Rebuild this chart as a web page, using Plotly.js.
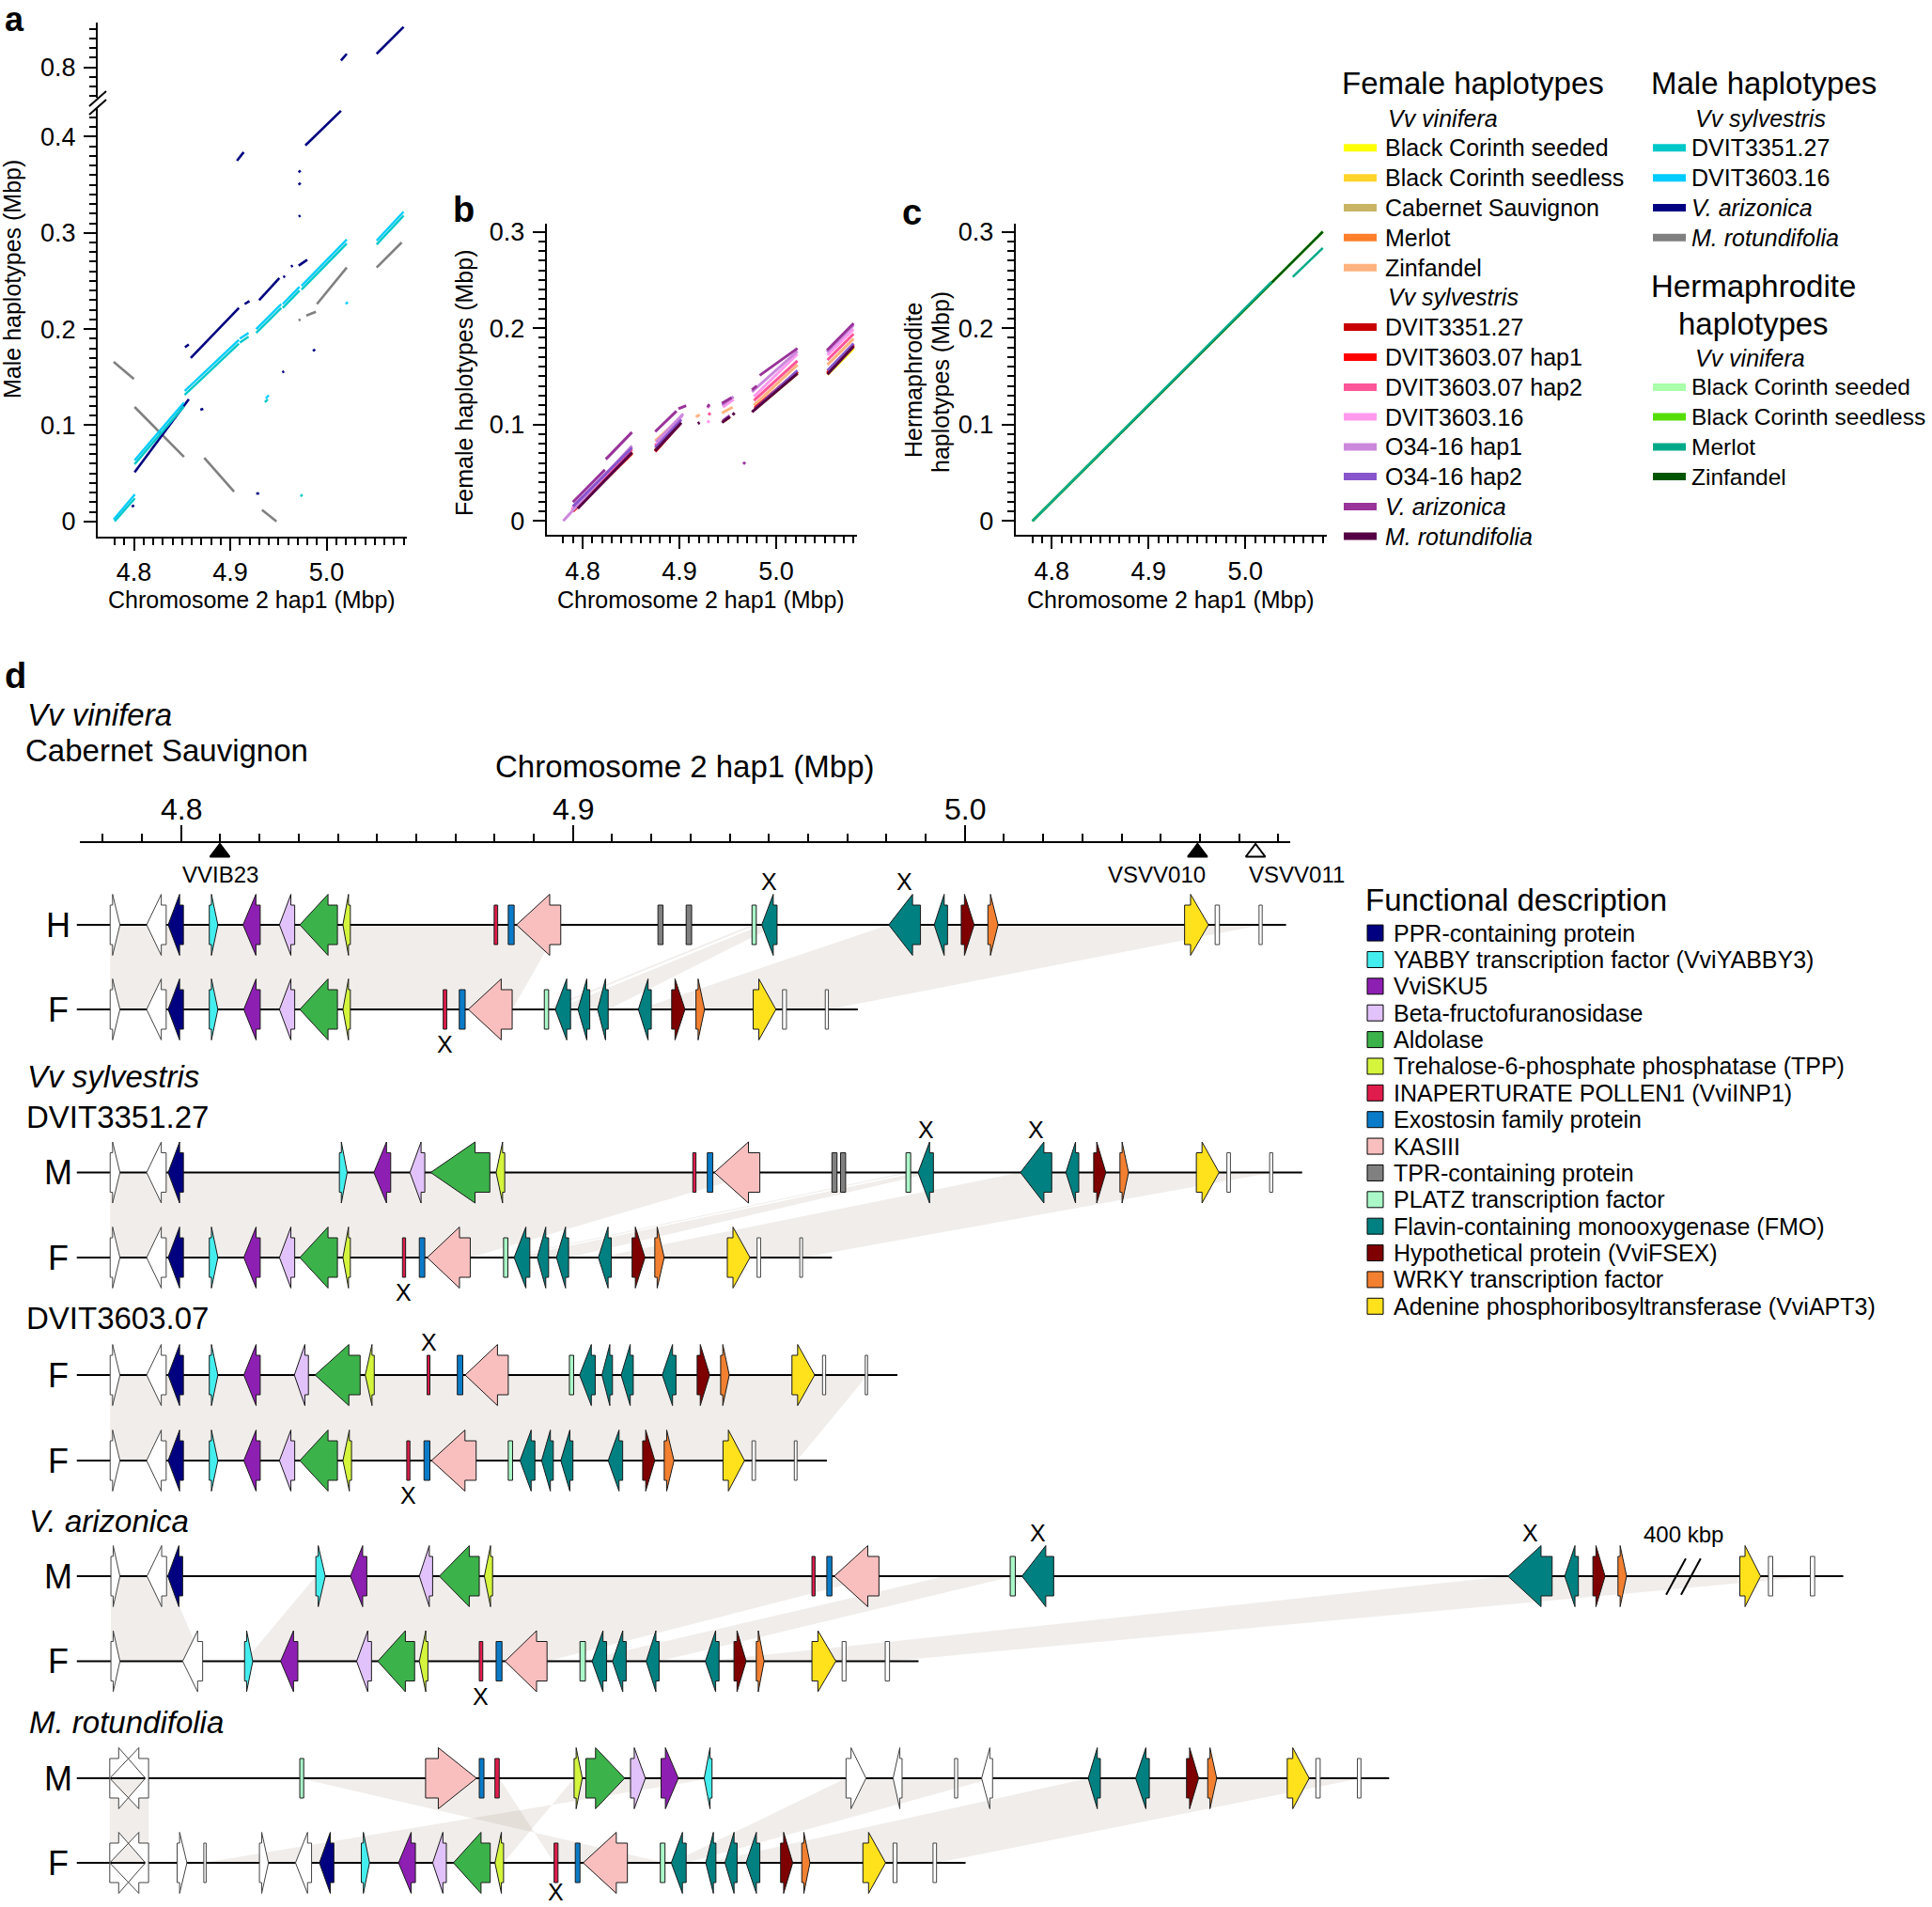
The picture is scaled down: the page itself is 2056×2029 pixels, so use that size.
<!DOCTYPE html>
<html><head><meta charset="utf-8">
<script src="https://cdn.plot.ly/plotly-3.0.1.min.js"></script>
<style>html,body{margin:0;padding:0;background:#fff}</style>
</head><body><div id="chart" style="width:2056px;height:2029px"></div>
<script>
const FONT = 'Liberation Sans, Arial, Helvetica, sans-serif';
const W = 2056, H = 2029;

// ================= Panel a: male haplotypes vs Chr2 hap1 (segments [x0,y0,x1,y1], Mbp) =================
const aDVIT3351_27 = [[4.780,0.000,4.801,0.024],[4.8007,0.0595,4.852,0.1196],[4.8527,0.1316,4.909,0.1848],[4.910,0.186,4.919,0.192],[4.927,0.196,4.953,0.222],[4.9545,0.222,4.972,0.240],[4.974,0.241,5.021,0.289],[5.052,0.288,5.080,0.318],[4.936,0.124,4.939,0.127],[4.973,0.026,4.975,0.028]];
const aDVIT3603_16 = [[4.779,0.002,4.801,0.028],[4.8007,0.0635,4.852,0.1236],[4.8527,0.1356,4.909,0.1888],[4.910,0.190,4.919,0.196],[4.927,0.200,4.953,0.226],[4.9545,0.226,4.972,0.244],[4.974,0.245,5.021,0.293],[5.052,0.292,5.080,0.322],[4.937,0.128,4.940,0.131],[5.020,0.226,5.022,0.228]];
const aVarizonica = [[4.798,0.015,4.800,0.017],[4.8007,0.051,4.857,0.127],[4.853,0.181,4.857,0.184],[4.859,0.170,4.909,0.222],[4.915,0.226,4.920,0.229],[4.930,0.230,4.951,0.253],[4.955,0.254,4.957,0.255],[4.963,0.265,4.965,0.266],[4.971,0.266,4.980,0.272],[4.907,0.375,4.914,0.384],[4.978,0.391,5.015,0.427],[4.971,0.350,4.973,0.352],[4.971,0.363,4.973,0.365],[4.971,0.317,4.973,0.318],[4.869,0.116,4.872,0.117],[4.986,0.177,4.988,0.179],[4.954,0.155,4.956,0.156],[4.927,0.029,4.930,0.029]];
const aVarizonicaUpper = [[5.015,0.807,5.021,0.814],[5.052,0.814,5.080,0.842]];
const aMrotundifolia = [[4.779,0.166,4.800,0.148],[4.8007,0.119,4.852,0.067],[4.873,0.066,4.904,0.031],[4.933,0.012,4.948,0.000],[4.979,0.214,4.989,0.218],[4.990,0.226,5.021,0.264],[5.052,0.264,5.078,0.290],[4.971,0.209,4.973,0.210]];

// ================= Panel b: female haplotypes =================
const bBCseeded = [[4.790,0.011,4.851,0.071],[4.875,0.073,4.899,0.100],[4.945,0.103,4.952,0.108],[4.978,0.116,5.022,0.153],[5.053,0.152,5.080,0.179]];
const bBCseedless = [[4.790,0.011,4.851,0.071],[4.875,0.073,4.899,0.100],[4.945,0.103,4.952,0.108],[4.978,0.116,5.022,0.153],[5.053,0.152,5.080,0.180]];
const bCabernet = [[4.790,0.011,4.851,0.072],[4.875,0.074,4.900,0.101],[4.945,0.103,4.952,0.108],[4.978,0.117,5.022,0.155],[5.053,0.154,5.080,0.182]];
const bMerlot = [[4.790,0.010,4.851,0.070],[4.875,0.073,4.899,0.099],[4.945,0.103,4.952,0.108],[4.978,0.116,5.022,0.154],[5.053,0.153,5.080,0.181]];
const bZinfandel = [[4.789,0.012,4.851,0.075],[4.875,0.083,4.898,0.104],[4.917,0.108,4.921,0.110],[4.944,0.112,4.955,0.118],[4.977,0.120,5.022,0.162],[5.053,0.162,5.080,0.189]];
const bDVIT3351 = [[4.790,0.010,4.851,0.070],[4.875,0.072,4.900,0.100],[4.945,0.103,4.952,0.108],[4.978,0.117,5.022,0.155],[5.053,0.153,5.080,0.182]];
const bDVIT3603hap1 = [[4.790,0.011,4.851,0.071],[4.875,0.073,4.900,0.101],[4.945,0.104,4.952,0.109],[4.978,0.117,5.022,0.155],[5.053,0.154,5.080,0.183]];
const bDVIT3603hap2 = [[4.789,0.012,4.851,0.074],[4.875,0.078,4.901,0.106],[4.930,0.110,4.932,0.112],[4.945,0.104,4.952,0.109],[4.977,0.125,5.022,0.166],[5.053,0.167,5.080,0.194]];
const bDVIT3603_16 = [[4.789,0.013,4.851,0.077],[4.876,0.080,4.903,0.109],[4.929,0.117,4.931,0.120],[4.929,0.102,4.931,0.104],[4.945,0.118,4.956,0.126],[4.977,0.129,5.022,0.173],[5.053,0.172,5.080,0.199]];
const bO34hap1 = [[4.780,0.000,4.851,0.078],[4.876,0.082,4.904,0.111],[4.944,0.120,4.956,0.129],[4.975,0.134,5.022,0.176],[5.0525,0.175,5.080,0.203]];
const bO34hap2 = [[4.790,0.015,4.851,0.076],[4.875,0.076,4.902,0.105],[4.945,0.104,4.952,0.109],[4.978,0.116,5.022,0.156],[5.053,0.156,5.080,0.184]];
const bVarizonica = [[4.790,0.0195,4.823,0.053],[4.824,0.064,4.851,0.092],[4.875,0.0926,4.897,0.114],[4.899,0.1163,4.907,0.1196],[4.929,0.118,4.931,0.121],[4.944,0.122,4.954,0.128],[4.966,0.059,4.968,0.061],[4.975,0.136,4.980,0.140],[4.983,0.151,5.022,0.179],[5.0525,0.177,5.080,0.205]];
const bMrotundifolia = [[4.795,0.013,4.851,0.071],[4.875,0.073,4.902,0.102],[4.919,0.101,4.921,0.102],[4.944,0.102,4.952,0.108],[4.955,0.110,4.957,0.112],[4.975,0.113,5.022,0.153],[5.053,0.152,5.080,0.181]];

// ================= Panel c: hermaphrodite haplotypes =================
const cBCseeded = [[4.780,0.000,5.080,0.300]];
const cBCseedless = [[4.780,0.000,5.080,0.300]];
const cZinfandel = [[4.780,0.000,5.080,0.300]];
const cMerlot = [[4.780,0.000,5.027,0.248],[5.049,0.253,5.080,0.283]];

// ================= Legend names =================
const femaleVinifera = ['Black Corinth seeded','Black Corinth seedless','Cabernet Sauvignon','Merlot','Zinfandel'];
const femaleSylvestris = ['DVIT3351.27','DVIT3603.07 hap1','DVIT3603.07 hap2','DVIT3603.16','O34-16 hap1','O34-16 hap2'];
const femaleWild = ['<i>V. arizonica</i>','<i>M. rotundifolia</i>'];
const maleNames = ['DVIT3351.27','DVIT3603.16','<i>V. arizonica</i>','<i>M. rotundifolia</i>'];
const hermNames = ['Black Corinth seeded','Black Corinth seedless','Merlot','Zinfandel'];

// ================= Panel d: genes [start kbp, end kbp, strand, type] =================
const geneTypes = ['PPR','YAB','SKU','BFR','ALD','TPP','INP','EXO','KAS','TPR','PLZ','FMO','FSX','WRK','APT'];
const geneLabels = ['PPR-containing protein','YABBY transcription factor (VviYABBY3)','VviSKU5','Beta-fructofuranosidase','Aldolase','Trehalose-6-phosphate phosphatase (TPP)','INAPERTURATE POLLEN1 (VviINP1)','Exostosin family protein','KASIII','TPR-containing protein','PLATZ transcription factor','Flavin-containing monooxygenase (FMO)','Hypothetical protein (VviFSEX)','WRKY transcription factor','Adenine phosphoribosyltransferase (VviAPT3)'];

const genesCabH = [[4781.9,4784.4,1,'U'],[4791.2,4796.2,-1,'U'],[4796.7,4800.6,-1,'PPR'],[4807.2,4809.4,1,'YAB'],[4815.8,4820.2,-1,'SKU'],[4825.1,4829.0,-1,'BFR'],[4830.3,4839.9,-1,'ALD'],[4841.3,4843.2,-1,'TPP'],[4879.9,4880.8,0,'INP'],[4883.5,4885.0,0,'EXO'],[4885.6,4896.9,-1,'KAS'],[4921.7,4923.0,0,'TPR'],[4928.9,4930.3,0,'TPR'],[4945.7,4946.8,0,'PLZ'],[4948.2,4952.1,-1,'FMO'],[4980.6,4988.7,-1,'FMO'],[4992.2,4995.6,-1,'FMO'],[4999.1,5002.4,1,'FSX'],[5005.9,5008.5,1,'WRK'],[5056.1,5062.2,1,'APT'],[5063.9,5065.0,0,'U'],[5075.1,5075.9,0,'U']];
const genesCabF = [[4781.9,4784.4,1,'U'],[4791.2,4796.2,-1,'U'],[4796.7,4800.6,-1,'PPR'],[4807.2,4809.4,1,'YAB'],[4816.0,4820.2,-1,'SKU'],[4825.1,4829.0,-1,'BFR'],[4830.3,4839.9,-1,'ALD'],[4841.3,4843.2,-1,'TPP'],[4866.9,4867.8,0,'INP'],[4871.0,4872.5,0,'EXO'],[4873.3,4884.5,-1,'KAS'],[4892.7,4893.8,0,'PLZ'],[4895.5,4899.4,-1,'FMO'],[4901.3,4904.3,-1,'FMO'],[4906.3,4909.0,-1,'FMO'],[4916.7,4920.0,-1,'FMO'],[4925.2,4928.6,1,'FSX'],[4931.4,4933.6,1,'WRK'],[4946.0,4951.8,1,'APT'],[4953.5,4954.5,0,'U'],[4964.4,4965.2,0,'U']];
const genes3351M = [[4781.9,4784.4,1,'U'],[4791.2,4796.2,-1,'U'],[4796.7,4800.6,-1,'PPR'],[4840.4,4842.4,1,'YAB'],[4849.2,4853.5,-1,'SKU'],[4858.4,4862.2,-1,'BFR'],[4863.7,4878.8,-1,'ALD'],[4880.4,4882.6,-1,'TPP'],[4930.6,4931.4,0,'INP'],[4934.3,4935.7,0,'EXO'],[4936.1,4947.7,-1,'KAS'],[4966.1,4967.4,0,'TPR'],[4968.3,4969.6,0,'TPR'],[4985.0,4986.2,0,'PLZ'],[4988.1,4992.0,-1,'FMO'],[5014.2,5022.2,-1,'FMO'],[5025.8,5029.1,-1,'FMO'],[5032.9,5036.0,1,'FSX'],[5039.6,5041.8,1,'WRK'],[5059.1,5064.9,1,'APT'],[5066.9,5067.8,0,'U'],[5077.8,5078.6,0,'U']];
const genes3351F = [[4781.9,4784.4,1,'U'],[4791.2,4796.2,-1,'U'],[4796.7,4800.6,-1,'PPR'],[4807.2,4809.4,1,'YAB'],[4816.0,4820.2,-1,'SKU'],[4825.1,4829.0,-1,'BFR'],[4830.3,4839.9,-1,'ALD'],[4841.3,4843.2,-1,'TPP'],[4856.5,4857.3,0,'INP'],[4860.8,4862.2,0,'EXO'],[4862.8,4873.8,-1,'KAS'],[4882.3,4883.4,0,'PLZ'],[4885.0,4889.0,-1,'FMO'],[4890.9,4893.8,-1,'FMO'],[4895.8,4898.9,-1,'FMO'],[4906.5,4909.8,-1,'FMO'],[4915.1,4918.4,1,'FSX'],[4920.9,4923.3,1,'WRK'],[4939.4,4945.2,1,'APT'],[4947.0,4947.9,0,'U'],[4957.9,4958.6,0,'U']];
const genes3603hap1 = [[4781.9,4784.4,1,'U'],[4791.2,4796.2,-1,'U'],[4796.7,4800.6,-1,'PPR'],[4807.2,4809.4,1,'YAB'],[4816.0,4820.2,-1,'SKU'],[4828.9,4832.5,-1,'BFR'],[4834.2,4845.7,-1,'ALD'],[4847.0,4849.3,-1,'TPP'],[4862.8,4863.5,0,'INP'],[4870.5,4871.9,0,'EXO'],[4872.5,4883.5,-1,'KAS'],[4899.1,4900.2,0,'PLZ'],[4901.7,4905.7,-1,'FMO'],[4907.4,4910.1,-1,'FMO'],[4912.3,4915.4,-1,'FMO'],[4922.8,4926.3,-1,'FMO'],[4931.7,4934.9,1,'FSX'],[4937.7,4939.9,1,'WRK'],[4955.9,4961.7,1,'APT'],[4963.7,4964.5,0,'U'],[4974.6,4975.2,0,'U']];
const genes3603hap2 = [[4781.9,4784.4,1,'U'],[4791.2,4796.2,-1,'U'],[4796.7,4800.6,-1,'PPR'],[4807.2,4809.4,1,'YAB'],[4816.0,4820.2,-1,'SKU'],[4825.1,4829.0,-1,'BFR'],[4830.3,4839.9,-1,'ALD'],[4841.3,4843.5,-1,'TPP'],[4857.6,4858.4,0,'INP'],[4862.0,4863.5,0,'EXO'],[4863.9,4875.3,-1,'KAS'],[4883.5,4884.6,0,'PLZ'],[4886.5,4890.3,-1,'FMO'],[4892.0,4895.0,-1,'FMO'],[4896.9,4900.0,-1,'FMO'],[4909.0,4912.7,-1,'FMO'],[4917.8,4920.9,1,'FSX'],[4923.3,4925.8,1,'WRK'],[4938.3,4943.8,1,'APT'],[4945.7,4946.6,0,'U'],[4956.5,4957.2,0,'U']];
const genesArizM = [[4782.1,4784.4,1,'U'],[4791.3,4796.3,-1,'U'],[4796.6,4800.4,-1,'PPR'],[4834.4,4836.8,1,'YAB'],[4843.2,4847.4,-1,'SKU'],[4860.8,4864.2,-1,'BFR'],[4865.9,4876.1,-1,'ALD'],[4877.4,4879.5,-1,'TPP'],[4961.0,4961.8,0,'INP'],[4964.8,4966.1,0,'EXO'],[4966.7,4978.1,-1,'KAS'],[5011.6,5012.9,0,'PLZ'],[5014.6,5022.7,-1,'FMO'],[5138.6,5149.9,-1,'FMO'],[5153.1,5156.6,-1,'FMO'],[5160.3,5163.4,1,'FSX'],[5166.7,5168.9,1,'WRK'],[5197.8,5203.1,1,'APT'],[5205.1,5206.2,0,'U'],[5215.8,5216.9,0,'U']];
const genesArizF = [[4782.1,4784.4,1,'U'],[4800.4,4805.5,-1,'U'],[4816.2,4818.3,1,'YAB'],[4825.4,4829.8,-1,'SKU'],[4844.8,4848.6,-1,'BFR'],[4850.2,4859.6,-1,'ALD'],[4860.8,4863.0,-1,'TPP'],[4876.1,4877.0,0,'INP'],[4880.4,4881.9,0,'EXO'],[4882.7,4893.4,-1,'KAS'],[4901.8,4903.2,0,'PLZ'],[4904.9,4908.6,-1,'FMO'],[4910.1,4913.6,-1,'FMO'],[4918.7,4922.0,-1,'FMO'],[4933.8,4937.3,-1,'FMO'],[4941.1,4944.2,1,'FSX'],[4946.8,4948.8,1,'WRK'],[4961.0,4967.1,1,'APT'],[4968.7,4969.7,0,'U'],[4979.7,4980.8,0,'U']];
const genesRotM = [[4781.8,4790.9,1,'U'],[4781.8,4791.7,-1,'U'],[4830.3,4831.3,0,'PLZ'],[4862.4,4875.4,1,'KAS'],[4876.1,4877.3,0,'EXO'],[4880.1,4881.2,0,'INP'],[4900.3,4902.4,1,'TPP'],[4903.3,4913.2,1,'ALD'],[4914.7,4918.5,1,'BFR'],[4922.5,4926.9,1,'SKU'],[4933.5,4935.5,-1,'YAB'],[4969.7,4974.8,1,'U'],[4981.7,4984.0,-1,'U'],[4997.4,4998.2,0,'U'],[5004.3,5007.1,-1,'U'],[5031.5,5034.6,-1,'FMO'],[5043.6,5047.1,-1,'FMO'],[5056.6,5059.7,1,'FSX'],[5062.0,5064.3,1,'WRK'],[5082.3,5087.9,1,'APT'],[5089.6,5090.7,0,'U'],[5100.2,5101.1,0,'U']];
const genesRotF = [[4781.8,4790.9,1,'U'],[4781.8,4791.7,-1,'U'],[4799.0,4801.5,1,'U'],[4805.8,4806.4,0,'U'],[4820.0,4822.3,1,'U'],[4829.2,4833.3,-1,'U'],[4835.3,4839.0,-1,'PPR'],[4846.0,4848.1,1,'YAB'],[4855.5,4859.8,-1,'SKU'],[4864.2,4867.7,-1,'BFR'],[4869.5,4878.9,-1,'ALD'],[4880.1,4882.3,-1,'TPP'],[4895.2,4896.2,0,'INP'],[4900.6,4901.8,0,'EXO'],[4902.6,4913.9,-1,'KAS'],[4922.3,4923.5,0,'PLZ'],[4925.1,4928.9,-1,'FMO'],[4933.9,4936.5,-1,'FMO'],[4938.8,4941.9,-1,'FMO'],[4944.2,4947.7,-1,'FMO'],[4953.0,4956.1,1,'FSX'],[4958.4,4960.5,1,'WRK'],[4974.0,4979.8,1,'APT'],[4981.7,4982.7,0,'U'],[4991.9,4992.8,0,'U']];

const trackNames = ['H','F','M','F','F','F','M','F','M','F'];
const trackStart = 4773.4;
const trackEnd = [5082.0,4972.7,5086.1,4966.1,4982.8,4964.8,5224.2,4988.2,5108.3,5000.2];

// synteny links [top start, top end, bottom start, bottom end] (kbp)
const linksCab = [[4781.9,4896.9,4781.9,4884.5],[4945.7,4946.8,4892.7,4893.8],[4948.2,4952.1,4895.5,4909.0],[4980.6,5075.9,4916.7,4965.2]];
const links3351 = [[4781.9,4947.7,4781.9,4873.8],[4985.0,4986.2,4882.3,4883.4],[4988.1,4992.0,4885.0,4898.9],[5014.2,5078.6,4906.5,4958.6]];
const links3603 = [[4781.9,4975.2,4781.9,4957.2]];
const linksAriz = [[4782.1,4796.3,4782.1,4805.5],[4834.4,4978.1,4816.2,4893.4],[4995.0,5012.5,4901.8,4922.0],[5138.6,5216.9,4933.8,4980.8]];
const linksRot = [[4781.8,4791.7,4781.8,4791.7],[4830.3,4881.2,4923.5,4895.2],[4900.3,4935.5,4882.3,4805.8],[4969.7,5007.1,4925.1,4928.9],[5031.5,5101.1,4933.9,4992.8]];

// genes marked with X: [track, gene index, side]
const xMarks = [[0,14,'above'],[0,15,'above'],[1,8,'below'],[2,14,'above'],[2,15,'above'],[3,8,'below'],[4,8,'above'],[5,8,'below'],[6,12,'above'],[6,13,'above'],[7,7,'below'],[9,12,'below']];

// ruler markers (Mbp) and ruler tick labels
const markerNames = ['VVIB23','VSVV010','VSVV011'];
const markerPos = [4.8099,5.0594,5.0742];
const rulerTicks = [4.8,4.9,5.0];
const rulerTickText = ['4.8','4.9','5.0'];

// ================= styles / layout constants =================
const trackY = [984,1074,1247.5,1338,1463,1554,1677,1767.5,1892,1982];
const femaleColors = ['#FFFF00','#FFD42A','#C8B464','#FF7F2A','#FFB380','#C80000','#FF0000','#FF5599','#FF99EE','#CC88DD','#8855CC','#993399','#550044'];
const maleColors = ['#00C8C8','#00CCFF','#000080','#808080'];
const hermColors = ['#AAFFAA','#55DD00','#00AA88','#005500'];
const typeColors = {U:'#FFFFFF',PPR:'#000080',YAB:'#44EEEE',SKU:'#8E1FB3',BFR:'#E2C2FA',ALD:'#3CB24A',TPP:'#D4F53C',INP:'#E01C4C',EXO:'#0A7BC8',KAS:'#F9BFBF',TPR:'#808080',PLZ:'#AAF8C8',FMO:'#008080',FSX:'#7E0000',WRK:'#F28030',APT:'#FFE11C'};

const traces = [];
const annotations = [];
const shapes = [];

function segXY(segs){const x=[],y=[];segs.forEach(s=>{x.push(s[0],s[2],null);y.push(s[1],s[3],null);});return {x,y};}
function segTrace(segs,color,xa,ya,w){const d=segXY(segs);traces.push({type:'scatter',mode:'lines',x:d.x,y:d.y,xaxis:xa,yaxis:ya,line:{color:color,width:w||3},hoverinfo:'skip',showlegend:false});}
function T(text,fx,fy,size,anchor,extra){annotations.push(Object.assign({text:text,xref:'paper',yref:'paper',x:fx/W,y:1-fy/H,showarrow:false,xanchor:anchor||'left',yanchor:'middle',font:{family:FONT,size:size,color:'#000'}},extra||{}));}
function paperLine(x0,y0,x1,y1,color,w){shapes.push({type:'line',xref:'paper',yref:'paper',x0:x0/W,y0:1-y0/H,x1:x1/W,y1:1-y1/H,line:{color:color,width:w}});}

// ---- panel a traces
segTrace(aMrotundifolia, maleColors[3],'x','y',2.6);
segTrace(aVarizonica, maleColors[2],'x','y',2.6);
segTrace(aVarizonicaUpper, maleColors[2],'x','y2',2.6);
segTrace(aDVIT3351_27, maleColors[0],'x','y',2.4);
segTrace(aDVIT3603_16, maleColors[1],'x','y',2.4);
// ---- panel b traces
[bBCseeded,bBCseedless,bCabernet,bMerlot,bZinfandel,bDVIT3351,bDVIT3603hap1,bDVIT3603hap2,bDVIT3603_16,bO34hap1,bO34hap2,bVarizonica,bMrotundifolia].forEach((s,i)=>segTrace(s,femaleColors[i],'x3','y3',3));
// ---- panel c traces
segTrace(cBCseeded,hermColors[0],'x4','y4',2.5);
segTrace(cBCseedless,hermColors[1],'x4','y4',2.5);
segTrace(cZinfandel,hermColors[3],'x4','y4',2.5);
segTrace(cMerlot,hermColors[2],'x4','y4',2.5);

// ---- panel d: links
const linkSets = [[0,1,linksCab],[2,3,links3351],[4,5,links3603],[6,7,linksAriz],[8,9,linksRot]];
linkSets.forEach(ls=>{
  const yt=trackY[ls[0]], yb=trackY[ls[1]];
  ls[2].forEach(l=>{
    traces.push({type:'scatter',mode:'none',fill:'toself',fillcolor:'rgba(180,165,150,0.2)',x:[l[0],l[1],l[3],l[2],l[0]],y:[yt,yt,yb,yb,yt],xaxis:'x5',yaxis:'y5',hoverinfo:'skip',showlegend:false});
  });
});
// track lines
(function(){const x=[],y=[];trackY.forEach((yc,i)=>{x.push(trackStart,trackEnd[i],null);y.push(yc,yc,null);});
traces.push({type:'scatter',mode:'lines',x:x,y:y,xaxis:'x5',yaxis:'y5',line:{color:'#000',width:2},hoverinfo:'skip',showlegend:false});})();

// genes
const allTracks = [genesCabH,genesCabF,genes3351M,genes3351F,genes3603hap1,genes3603hap2,genesArizM,genesArizF,genesRotM,genesRotF];
const HB=21, HH=32.5, HEAD=0.75;
function genePoly(g,yc){
  const s=g[0],e=g[1],st=g[2],L=e-s;
  if(st===0) return [[s,yc-HB],[e,yc-HB],[e,yc+HB],[s,yc+HB],[s,yc-HB]];
  if(st===1){const b=e-HEAD*L;return [[s,yc-HB],[b,yc-HB],[b,yc-HH],[e,yc],[b,yc+HH],[b,yc+HB],[s,yc+HB],[s,yc-HB]];}
  const b=s+HEAD*L;return [[e,yc-HB],[b,yc-HB],[b,yc-HH],[s,yc],[b,yc+HH],[b,yc+HB],[e,yc+HB],[e,yc-HB]];
}
['U'].concat(geneTypes).forEach(t=>{
  const x=[],y=[];
  allTracks.forEach((tr,i)=>tr.forEach(g=>{if(g[3]===t){genePoly(g,trackY[i]).forEach(p=>{x.push(p[0]);y.push(p[1]);});x.push(null);y.push(null);}}));
  traces.push({type:'scatter',mode:'lines',fill:'toself',fillcolor:typeColors[t],x:x,y:y,xaxis:'x5',yaxis:'y5',line:{color:t==='U'?'#444':'#1a1a1a',width:1},hoverinfo:'skip',showlegend:false});
});
// X marks
xMarks.forEach(m=>{
  const g=allTracks[m[0]][m[1]];const c=(g[0]+g[1])/2;
  const off = m[2]==='above' ? (g[2]===0?-35:-46) : 37;
  const yy = Math.min(trackY[m[0]]+off, 2013);
  annotations.push({text:'X',xref:'x5',yref:'y5',x:c,y:yy,showarrow:false,xanchor:'center',yanchor:'middle',font:{family:FONT,size:25,color:'#000'}});
});
// ruler markers
traces.push({type:'scatter',mode:'markers',x:markerPos,y:[0.5,0.5,0.5],xaxis:'x6',yaxis:'y6',marker:{symbol:['triangle-up','triangle-up','triangle-up-open'],size:18,color:'#000',line:{color:'#000',width:2}},hoverinfo:'skip',showlegend:false,cliponaxis:false});
T(markerNames[0],234,930,24,'center');
T(markerNames[1],1285,930,24,'right');
T(markerNames[2],1327,930,24,'left');
// ruler tick labels
rulerTicks.forEach((v,i)=>annotations.push({text:rulerTickText[i],xref:'x6',yref:'paper',x:v,y:1-861/H,showarrow:false,xanchor:'center',yanchor:'middle',font:{family:FONT,size:32,color:'#000'}}));

// axis break on V. arizonica M track
shapes.push({type:'line',xref:'x5',yref:'y5',x0:5179.0,y0:1696.7,x1:5184.0,y1:1658.3,line:{color:'#000',width:2}});
shapes.push({type:'line',xref:'x5',yref:'y5',x0:5182.8,y0:1696.7,x1:5187.8,y1:1658.3,line:{color:'#000',width:2}});
T('400 kbp',1791,1632,24,'center');

// ---- panel a axis-break marks
paperLine(95,113,113,97,'#000',2);
paperLine(95,122,113,106,'#000',2);

// ---- text: panel letters and axis titles
T('<b>a</b>',15,20,36,'center');
T('<b>b</b>',493,223,38,'center');
T('<b>c</b>',970,226,38,'center');
T('<b>d</b>',16,719,38,'center');
T('Male haplotypes (Mbp)',13,297,25,'center',{textangle:-90});
T('Female haplotypes (Mbp)',494,408,25,'center',{textangle:-90});
T('Hermaphrodite',972,405,25,'center',{textangle:-90});
T('haplotypes (Mbp)',1001,407,25,'center',{textangle:-90});
T('Chromosome 2 hap1 (Mbp)',268,638.5,25,'center');
T('Chromosome 2 hap1 (Mbp)',746,638.5,25,'center');
T('Chromosome 2 hap1 (Mbp)',1246,638.5,25,'center');

// ---- haplotype legend
function swatch(x0,x1,fy,c){paperLine(x0,fy,x1,fy,c,8);}
T('Female haplotypes',1426,88.5,33);
T('<i>Vv vinifera</i>',1475,125.6,25);
const fRows=[157.2,189.2,221.1,252.7,284.7,347.9,379.9,411.9,443.5,475.4,507.0,539.0,570.6];
const fNames=femaleVinifera.concat(femaleSylvestris,femaleWild);
fNames.forEach((n,i)=>{swatch(1430,1465,fRows[i],femaleColors[i]);T(n,1472,fRows[i],25);});
T('<i>Vv sylvestris</i>',1475,316.3,25);
T('Male haplotypes',1755,88.5,33);
T('<i>Vv sylvestris</i>',1802,125.6,25);
const mRows=[157.2,189.2,221.1,252.7];
maleNames.forEach((n,i)=>{swatch(1759,1794,mRows[i],maleColors[i]);T(n,1798,mRows[i],25);});
T('Hermaphrodite',1866,304.3,33,'center');
T('haplotypes',1866,344.8,33,'center');
T('<i>Vv vinifera</i>',1802,380.6,25);
const hRows=[411.9,443.5,475.4,507.0];
hermNames.forEach((n,i)=>{swatch(1759,1794,hRows[i],hermColors[i]);T(n,1798,hRows[i],24.5);});

// ---- functional legend
T('Functional description',1451,957,33);
geneTypes.forEach((t,i)=>{const fy=992.6+i*28.37;
  shapes.push({type:'rect',xref:'paper',yref:'paper',x0:1455/W,x1:1472/W,y0:1-(fy+8.5)/H,y1:1-(fy-8.5)/H,fillcolor:typeColors[t],line:{color:'#000',width:1}});
  T(geneLabels[i],1481,fy,25);});

// ---- panel d labels
T('<i>Vv vinifera</i>',27,761,33);
T('Cabernet Sauvignon',25,798,33);
T('Chromosome 2 hap1 (Mbp)',729,815,33,'center');
T('<i>Vv sylvestris</i>',27,1145,33);
T('DVIT3351.27',26,1188,33);
T('DVIT3603.07',26,1402.7,33);
T('<i>V. arizonica</i>',29,1618,33);
T('<i>M. rotundifolia</i>',29,1832.7,33);
trackNames.forEach((n,i)=>T(n,62,trackY[i],36,'center'));

// ================= axes =================
function steps(a,b){const v=[];for(let k=a;k<=b;k++)v.push(k/100);return v;}
function minorCfg(vals,len){return {tickmode:'array',tickvals:vals,ticks:'outside',ticklen:len||7,tickwidth:2,tickcolor:'#000'};}
const axBase={showgrid:false,zeroline:false,showline:true,linecolor:'#000',linewidth:2,ticks:'outside',ticklen:13,tickwidth:2,tickcolor:'#000',tickfont:{family:FONT,size:27,color:'#000'},automargin:false,fixedrange:true};
const X=(o)=>Object.assign({},axBase,{dtick:0.1,tick0:0,tickformat:'.1f',ticklabelstandoff:0},o);
const Y=(o)=>Object.assign({},axBase,{dtick:0.1,tick0:0,ticklabelstandoff:3},o);

const layout={
  width:W,height:H,margin:{l:0,r:0,t:0,b:0,pad:0},
  paper_bgcolor:'#ffffff',plot_bgcolor:'rgba(0,0,0,0)',showlegend:false,
  font:{family:FONT,size:24,color:'#000'},
  xaxis:X({domain:[104/W,433/W],range:[4.76244,5.08341],anchor:'y',minor:minorCfg(steps(478,508))}),
  yaxis:Y({domain:[1-571/H,1-115/H],range:[-0.0159,0.4298],anchor:'x',minor:minorCfg(steps(0,42))}),
  yaxis2:Y({domain:[1-104/H,1-24/H],range:[0.7683,0.8465],anchor:'x',minor:minorCfg(steps(77,84))}),
  xaxis3:X({domain:[581.7/W,911.7/W],range:[4.76282,5.08320],anchor:'y3',minor:minorCfg(steps(478,508))}),
  yaxis3:Y({domain:[1-569.3/H,1-238.3/H],range:[-0.01462,0.30799],anchor:'x3',minor:minorCfg(steps(0,30))}),
  xaxis4:X({domain:[1080.7/W,1411.7/W],range:[4.76252,5.08388],anchor:'y4',minor:minorCfg(steps(478,508))}),
  yaxis4:Y({domain:[1-569.3/H,1-238.3/H],range:[-0.01462,0.30799],anchor:'x4',minor:minorCfg(steps(0,30))}),
  xaxis5:{domain:[0,1],range:[4753.79,5246.84],visible:false,anchor:'y5',fixedrange:true},
  yaxis5:{domain:[0,1],range:[H,0],visible:false,anchor:'x5',fixedrange:true},
  xaxis6:Object.assign({},axBase,{domain:[85/W,1373/W],range:[4.774173,5.083046],anchor:'y6',side:'top',ticklen:17,dtick:0.1,tick0:0,showticklabels:false,minor:minorCfg(steps(478,508),8)}),
  yaxis6:{domain:[1-917/H,1-897/H],range:[0,1],visible:false,anchor:'x6',fixedrange:true},
  annotations:annotations,shapes:shapes
};
Plotly.newPlot('chart',traces,layout,{staticPlot:true,responsive:false});
</script></body></html>
